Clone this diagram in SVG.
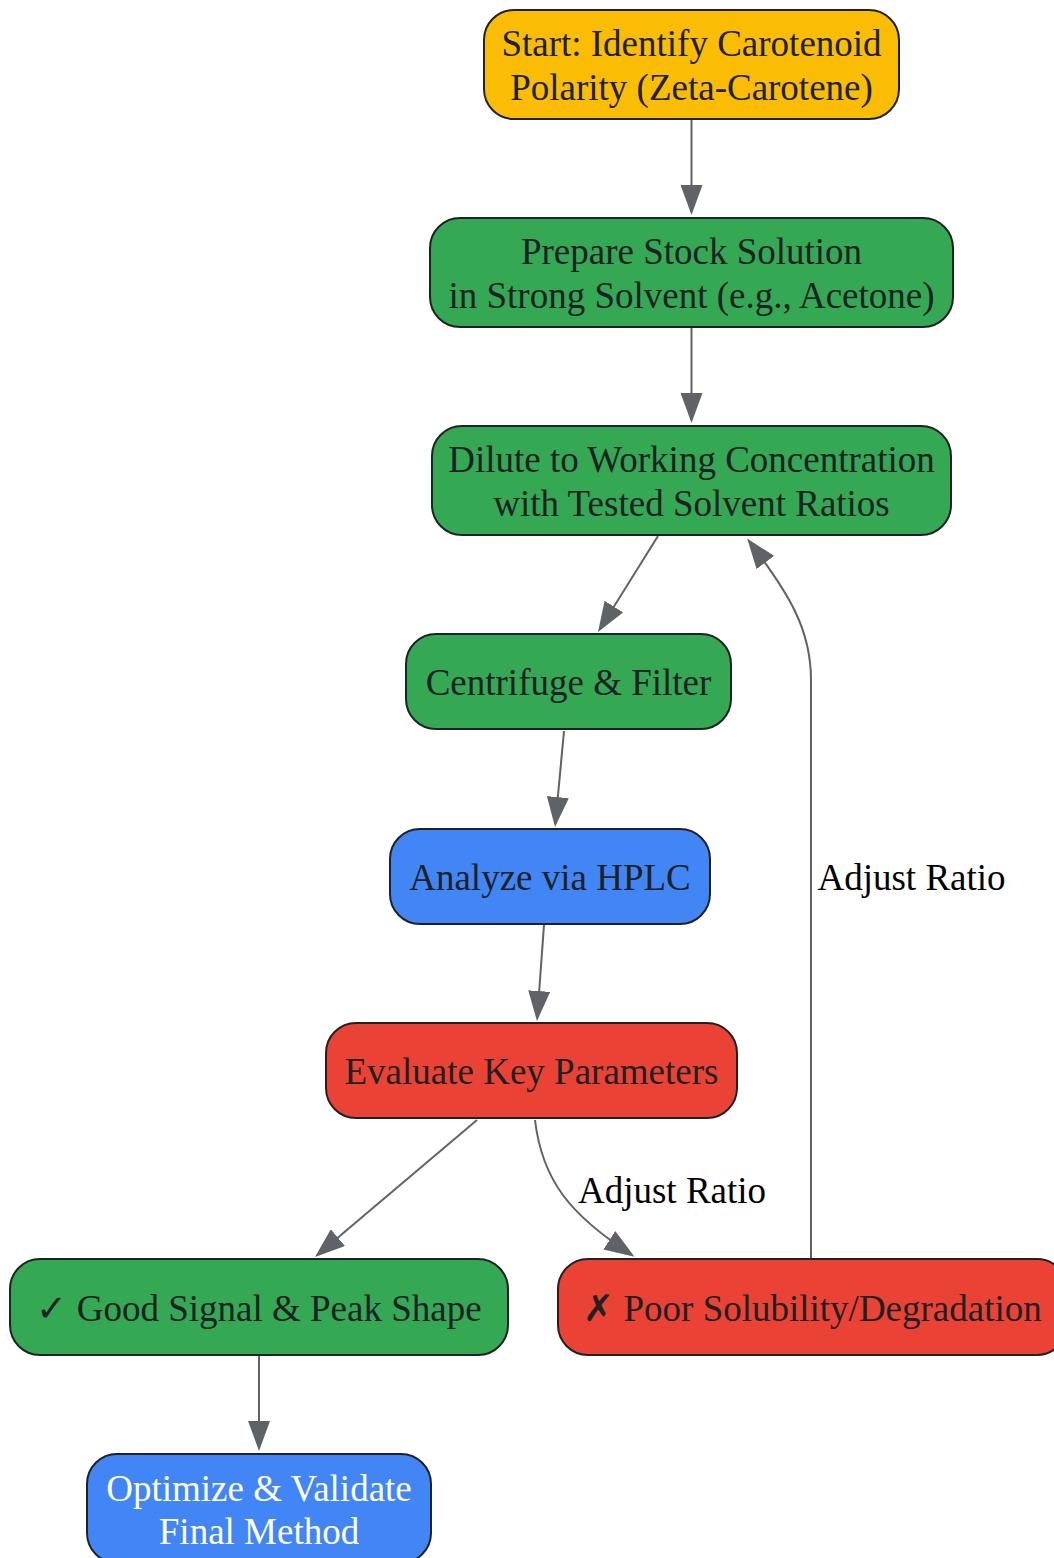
<svg xmlns="http://www.w3.org/2000/svg" width="1054" height="1558" viewBox="0 0 1054 1558">
<style>
.n rect{stroke:#202124;stroke-width:2}
.t{font-family:"Liberation Serif","DejaVu Serif",serif;font-size:37px;fill:#202124;text-anchor:middle}
.w{fill:#ffffff}
.yel{fill:#FBBC04}.grn{fill:#34A853}.blu{fill:#4285F4}.red{fill:#EA4335}
.e{fill:none;stroke:#5f6368;stroke-width:2;marker-end:url(#ah)}
.lbl{font-family:"Liberation Serif","DejaVu Serif",serif;font-size:37px;fill:#000;text-anchor:middle}
</style>
<defs>
<marker id="ah" markerUnits="userSpaceOnUse" viewBox="0 0 30 22" refX="27" refY="11" markerWidth="30" markerHeight="22" orient="auto">
<path d="M0,0 L30,11 L0,22 z" fill="#5f6368"/>
</marker>
</defs>
<rect width="1054" height="1558" fill="#ffffff"/>
<g id="edges">
<path class="e" d="M691.5,120 L691.5,212"/>
<path class="e" d="M691.5,328 L691.5,420"/>
<path class="e" d="M658,536 L599.6,629.5"/>
<path class="e" d="M564,731 L555.3,824"/>
<path class="e" d="M544,925 L537.2,1018"/>
<path class="e" d="M477,1120 L317.3,1255.1"/>
<path class="e" d="M535,1120 C542,1180 570,1215 632,1255"/>
<path class="e" d="M811,1258 L811,680 C811,630 790,595 749,541"/>
<path class="e" d="M259,1356 L259,1448"/>
<text class="lbl" x="672" y="1203">Adjust Ratio</text>
<text class="lbl" x="911.5" y="890">Adjust Ratio</text>
</g>
<g id="start" class="n"><rect class="yel" x="484" y="10" width="415" height="109" rx="30"/><text class="t" x="691.5" y="56">Start: Identify Carotenoid</text><text class="t" x="691.5" y="100">Polarity (Zeta-Carotene)</text></g>
<g id="prepare" class="n"><rect class="grn" x="430" y="218" width="523" height="109" rx="30"/><text class="t" x="691.5" y="264">Prepare Stock Solution</text><text class="t" x="691.5" y="308">in Strong Solvent (e.g., Acetone)</text></g>
<g id="dilute" class="n"><rect class="grn" x="432" y="426" width="519" height="109" rx="30"/><text class="t" x="691.5" y="472">Dilute to Working Concentration</text><text class="t" x="691.5" y="516">with Tested Solvent Ratios</text></g>
<g id="centrifuge" class="n"><rect class="grn" x="406" y="634" width="325" height="95" rx="30"/><text class="t" x="568.5" y="695">Centrifuge &amp; Filter</text></g>
<g id="analyze" class="n"><rect class="blu" x="390" y="829" width="320" height="95" rx="30"/><text class="t" x="550" y="890">Analyze via HPLC</text></g>
<g id="evaluate" class="n"><rect class="red" x="326" y="1023" width="411" height="95" rx="30"/><text class="t" x="531.5" y="1084">Evaluate Key Parameters</text></g>
<g id="good" class="n"><rect class="grn" x="10" y="1259" width="498" height="96" rx="30"/><text class="t" x="259" y="1321">✓ Good Signal &amp; Peak Shape</text></g>
<g id="poor" class="n"><rect class="red" x="558" y="1259" width="509" height="96" rx="30"/><text class="t" x="812.5" y="1321">✗ Poor Solubility/Degradation</text></g>
<g id="optimize" class="n"><rect class="blu" x="87" y="1454" width="344" height="109" rx="30"/><text class="t w" x="259" y="1501">Optimize &amp; Validate</text><text class="t w" x="259" y="1544">Final Method</text></g>
</svg>
